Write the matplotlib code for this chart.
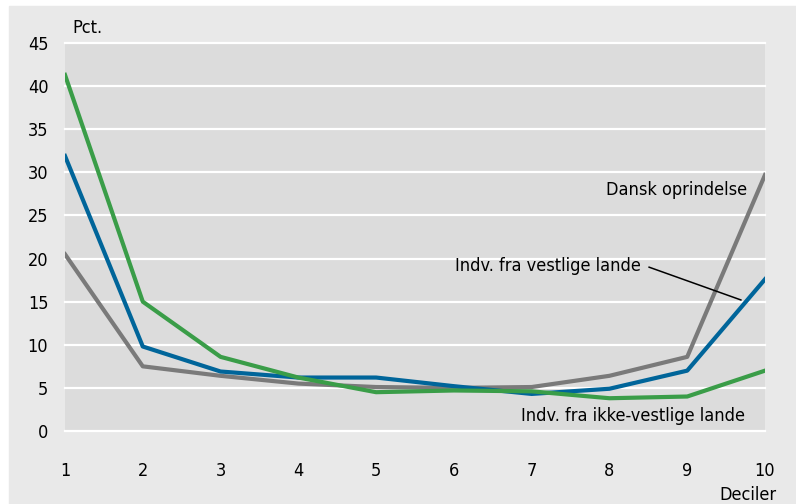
import numpy as np
import matplotlib
matplotlib.use('Agg')
import matplotlib.pyplot as plt
from matplotlib.patches import Rectangle

# Data (pct. by income decile)
deciles = [1, 2, 3, 4, 5, 6, 7, 8, 9, 10]
dansk = [20.5, 7.5, 6.4, 5.5, 5.1, 5.0, 5.1, 6.4, 8.6, 29.7]
vestlige = [31.9, 9.8, 6.9, 6.2, 6.2, 5.2, 4.3, 4.9, 7.0, 17.6]
ikke_vestlige = [41.3, 15.0, 8.6, 6.2, 4.5, 4.7, 4.6, 3.8, 4.0, 7.0]
yticks = [0, 5, 10, 15, 20, 25, 30, 35, 40, 45]

plt.rcParams['font.family'] = ['DejaVu Sans']
plt.rcParams['font.stretch'] = 'condensed'

W, H = 796, 504
fig = plt.figure(figsize=(W / 100, H / 100), dpi=100, facecolor='white')
# light gray panel behind everything (white strip top and left)
fig.patches.append(Rectangle((9 / W, 0), 1 - 9 / W, 1 - 6 / H,
                             transform=fig.transFigure, color='#e9e9e9', zorder=-1))

ax = fig.add_axes([65 / W, (H - 431) / H, 700 / W, 388 / H])
ax.set_facecolor('#dcdcdc')
ax.set_xlim(1, 10)
ax.set_ylim(0, 45)
for y in yticks:
    ax.axhline(y, color='white', lw=1.6, zorder=1, clip_on=False)

ax.plot(deciles, dansk, color='#7a7a7a', lw=3, zorder=3)
ax.plot(deciles, vestlige, color='#00659a', lw=3, zorder=4)
ax.plot(deciles, ikke_vestlige, color='#3a9d48', lw=3, zorder=5)

for s in ax.spines.values():
    s.set_visible(False)
ax.set_xticks(deciles)
ax.set_yticks(yticks)
ax.tick_params(length=0, labelsize=13, colors='black')
ax.tick_params(axis='x', pad=22)
ax.tick_params(axis='y', pad=12)

fs = 13
ax.text(9.77, 28.0, 'Dansk oprindelse', ha='right', va='center', fontsize=fs, zorder=6)
ax.text(8.41, 19.1, 'Indv. fra vestlige lande', ha='right', va='center', fontsize=fs, zorder=6)
ax.plot([8.51, 9.69], [19.0, 15.2], color='black', lw=1.1, zorder=6)
ax.text(9.74, 1.74, 'Indv. fra ikke-vestlige lande', ha='right', va='center', fontsize=fs, zorder=6)

ax.text(0.01, 1.039, 'Pct.', transform=ax.transAxes, ha='left', va='center', fontsize=fs)
ax.text(1.016, -0.165, 'Deciler', transform=ax.transAxes, ha='right', va='center', fontsize=fs)

fig.savefig('out.png', dpi=100, facecolor=fig.get_facecolor())
